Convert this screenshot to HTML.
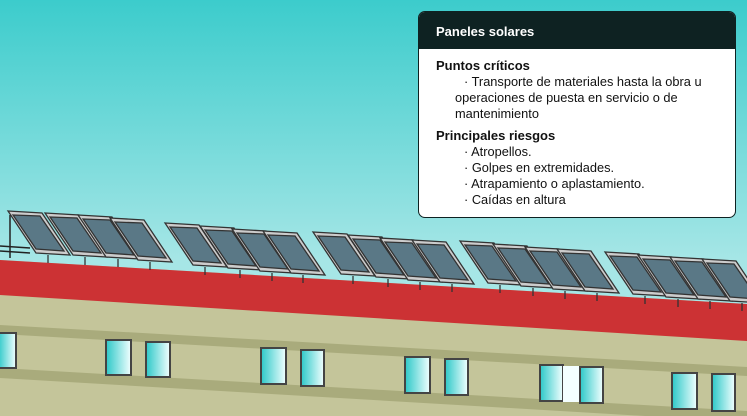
<!DOCTYPE html>
<html><head><meta charset="utf-8"><style>
html,body{margin:0;padding:0;width:747px;height:416px;overflow:hidden}
body{background:linear-gradient(#3ccccc,#a6e6e6 260px);position:relative;font-family:"Liberation Sans","DejaVu Sans",sans-serif}
svg{position:absolute;left:0;top:0}
.box{position:absolute;left:418px;top:11px;width:316px;height:205px;background:#fff;border:1px solid #0e2222;border-radius:7px;overflow:hidden}
.hd{background:#0e2222;color:#fff;font-weight:bold;font-size:13px;height:37px;line-height:40px;padding-left:17px}
.bd{padding:6px 0 0 17px;font-size:12.8px;color:#111;line-height:16px}
.t{font-weight:bold;font-size:13px}
.i{padding-left:28px}
</style></head><body>
<svg width="747" height="416" viewBox="0 0 747 416">
<defs><linearGradient id="w" x1="0" x2="1"><stop offset="0" stop-color="#2cc8c8"/><stop offset="1" stop-color="#f2ffff"/></linearGradient></defs>
<polygon points="0,260 747,304 747,416 0,416" fill="#c4c59a"/>
<polygon points="0,260 747,304 747,341 0,295" fill="#cc3234"/>
<polygon points="0,325 747,367 747,376 0,334" fill="#a9ab7c"/>
<polygon points="0,368 747,411 747,422 0,378" fill="#a9ab7c"/>
<g stroke="#444" stroke-width="2" fill="url(#w)">
<rect x="-2" y="333" width="18" height="35"/>
<rect x="106" y="340" width="25" height="35"/>
<rect x="146" y="342" width="24" height="35"/>
<rect x="261" y="348" width="25" height="36"/>
<rect x="301" y="350" width="23" height="36"/>
<rect x="405" y="357" width="25" height="36"/>
<rect x="445" y="359" width="23" height="36"/>
<rect x="540" y="365" width="23" height="36"/>
<rect x="563" y="366" width="16" height="36" fill="#f4ffff" stroke="none"/>
<rect x="580" y="367" width="23" height="36"/>
<rect x="672" y="373" width="25" height="36"/>
<rect x="712" y="374" width="23" height="37"/>
</g>
<g stroke="#222" stroke-width="1.5" fill="none">
<polyline points="0,246 30,248"/>
<polyline points="0,251 30,253"/>
<line x1="10" y1="215" x2="10" y2="258"/>
</g>
<g id="p" stroke="#333" stroke-width="1.3" fill="#5a7886">
</g>
</svg>
<script>
var xs=[[8,211],[45,213],[78,215],[110,218],[165,223],[200,226],[232,229],[263,231],[313,232],[348,235],[380,238],[412,240],[460,241],[493,244],[525,247],[557,249],[605,252],[638,255],[670,257],[702,259]];
var g=document.getElementById('p'),s='';
xs.forEach(function(a){var x=a[0],y=a[1];
s+='<polygon points="'+x+','+y+' '+(x+34)+','+(y+2)+' '+(x+62)+','+(y+44)+' '+(x+28)+','+(y+42)+'" fill="#ccc"/>';
s+='<polygon points="'+(x+5)+','+(y+4)+' '+(x+32)+','+(y+5)+' '+(x+56)+','+(y+40)+' '+(x+28)+','+(y+38)+'"/>';
s+='<line x1="'+(x+40)+'" y1="'+(y+44)+'" x2="'+(x+40)+'" y2="'+(y+52)+'"/>';});
g.innerHTML=s;
</script>
<div class="box"><div class="hd">Paneles solares</div>
<div class="bd"><div class="t" style="margin-top:3px">Puntos críticos</div>
<div class="i">· Transporte de materiales hasta la obra u</div>
<div style="padding-left:19px">operaciones de puesta en servicio o de<br>mantenimiento</div>
<div class="t" style="margin-top:6px">Principales riesgos</div>
<div class="i">· Atropellos.<br>· Golpes en extremidades.<br>· Atrapamiento o aplastamiento.<br>· Caídas en altura</div>
</div></div>
</body></html>
